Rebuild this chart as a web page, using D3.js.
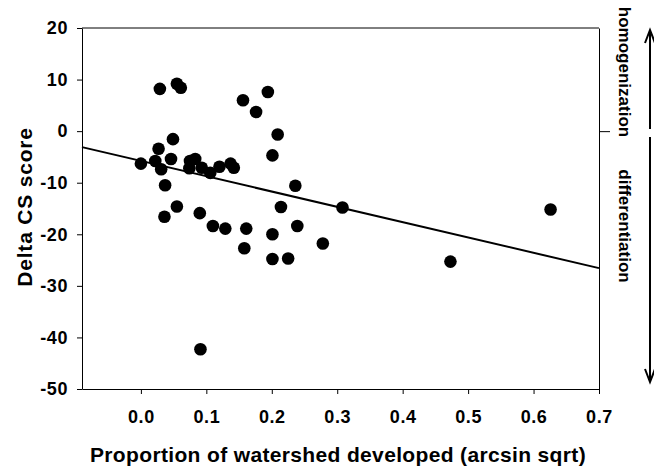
<!DOCTYPE html>
<html>
<head>
<meta charset="utf-8">
<script src="https://cdn.jsdelivr.net/npm/d3@7"></script>
<style>
  body { margin: 0; background: #fff; }
  text { font-family: "Liberation Sans", Arial, sans-serif; font-weight: bold; fill: #000; }
</style>
</head>
<body>
<div id="chart"></div>
<script>
// proportion developed (arcsin sqrt) and delta CS score
const developed = [0.029, 0.055, 0.061, 0.156, 0.194, 0.176, 0.209, 0.201, 0.049, 0.027,
  0.000, 0.022, 0.031, 0.046, 0.075, 0.083, 0.074, 0.093, 0.106, 0.120,
  0.137, 0.142, 0.037, 0.236, 0.214, 0.055, 0.036, 0.090, 0.110, 0.129,
  0.161, 0.201, 0.239, 0.158, 0.201, 0.225, 0.278, 0.091, 0.308, 0.473, 0.626]
const deltaCS = [8.2, 9.2, 8.4, 6.0, 7.6, 3.7, -0.65, -4.7, -1.55, -3.4,
  -6.3, -5.8, -7.4, -5.4, -5.8, -5.4, -7.2, -7.1, -8.1, -6.9,
  -6.3, -7.1, -10.5, -10.6, -14.7, -14.6, -16.6, -15.9, -18.4, -18.9,
  -18.9, -20.0, -18.4, -22.7, -24.8, -24.7, -21.8, -42.3, -14.8, -25.3, -15.2]

// fitted line: intercept, slope
const fitLine = [-5.77, -29.7]

const xTicks = [0, 0.1, 0.2, 0.3, 0.4, 0.5, 0.6, 0.7]
const yTicks = [20, 10, 0, -10, -20, -30, -40, -50]
const sideLabels = ['homogenization', 'differentiation']

const margin = { top: 28, left: 82, right: 55, bottom: 78 }
const width = 654 - margin.left - margin.right
const height = 467 - margin.top - margin.bottom

const svg = d3.select('#chart')
  .append('svg')
  .attr('width', 654)
  .attr('height', 467)

const g = svg.append('g')
  .attr('transform', `translate(${margin.left}, ${margin.top})`)

const x = d3.scaleLinear()
  .domain([-0.09, 0.7])
  .range([0, width])

const y = d3.scaleLinear()
  .domain([-50, 20])
  .range([height, 0])

// frame on top
g.append('line')
  .attr('x1', 0).attr('x2', width)
  .attr('y1', 0).attr('y2', 0)
  .attr('stroke', '#000').attr('stroke-width', 1)

// plain hyphen for negatives, like the original
const intFmt = d => String(d)

// left axis
const leftAxis = d3.axisLeft(y).tickValues(yTicks).tickSize(5).tickPadding(9).tickSizeOuter(0)
  .tickFormat(intFmt)
const leftG = g.append('g').call(leftAxis)

// bottom axis
const bottomAxis = d3.axisBottom(x).tickValues(xTicks).tickSize(5).tickPadding(16).tickSizeOuter(0)
  .tickFormat(d => d.toFixed(1))
const bottomG = g.append('g')
  .attr('transform', `translate(0, ${height})`)
  .call(bottomAxis)

// right axis with only the zero tick
const rightAxis = d3.axisRight(y).tickValues([0]).tickSize(11).tickSizeOuter(0).tickFormat('')
const rightG = g.append('g')
  .attr('transform', `translate(${width}, 0)`)
  .call(rightAxis)

;[leftG, bottomG, rightG].forEach(a => {
  a.selectAll('path').attr('stroke', '#000').attr('stroke-width', 1)
  a.selectAll('line').attr('stroke', '#000').attr('stroke-width', 1)
  a.selectAll('text').style('font-size', '18px').style('letter-spacing', '0.6px').attr('fill', '#000')
})

// regression line
g.append('line')
  .attr('x1', x(-0.09)).attr('y1', y(fitLine[0] + fitLine[1] * -0.09))
  .attr('x2', x(0.7)).attr('y2', y(fitLine[0] + fitLine[1] * 0.7))
  .attr('stroke', '#000').attr('stroke-width', 2)

// points
g.selectAll('circle')
  .data(developed.map((d, i) => ({ x: d, y: deltaCS[i] })))
  .enter()
  .append('circle')
  .attr('cx', p => x(p.x))
  .attr('cy', p => y(p.y))
  .attr('r', 6.3)
  .attr('fill', '#000')

// axis titles
svg.append('text')
  .attr('x', 338)
  .attr('y', 462)
  .attr('text-anchor', 'middle')
  .style('font-size', '21px')
  .style('letter-spacing', '0.35px')
  .text('Proportion of watershed developed (arcsin sqrt)')

svg.append('text')
  .attr('transform', 'translate(32, 207) rotate(-90)')
  .attr('text-anchor', 'middle')
  .style('font-size', '21px')
  .style('letter-spacing', '0.8px')
  .text('Delta CS score')

// side annotations
svg.append('text')
  .attr('transform', 'translate(619, 72) rotate(90)')
  .attr('text-anchor', 'middle')
  .style('font-size', '17px')
  .text(sideLabels[0])

svg.append('text')
  .attr('transform', 'translate(619, 226) rotate(90)')
  .attr('text-anchor', 'middle')
  .style('font-size', '17px')
  .text(sideLabels[1])

// arrows
const arrowX = 650
const arrows = svg.append('g').attr('stroke', '#000').attr('stroke-width', 2).attr('fill', 'none')
arrows.append('path').attr('d', `M${arrowX},129 L${arrowX},30 M${arrowX - 5},43 L${arrowX},30 L${arrowX + 5},43`)
arrows.append('path').attr('d', `M${arrowX},137 L${arrowX},382 M${arrowX - 5},369 L${arrowX},382 L${arrowX + 5},369`)
</script>
</body>
</html>
